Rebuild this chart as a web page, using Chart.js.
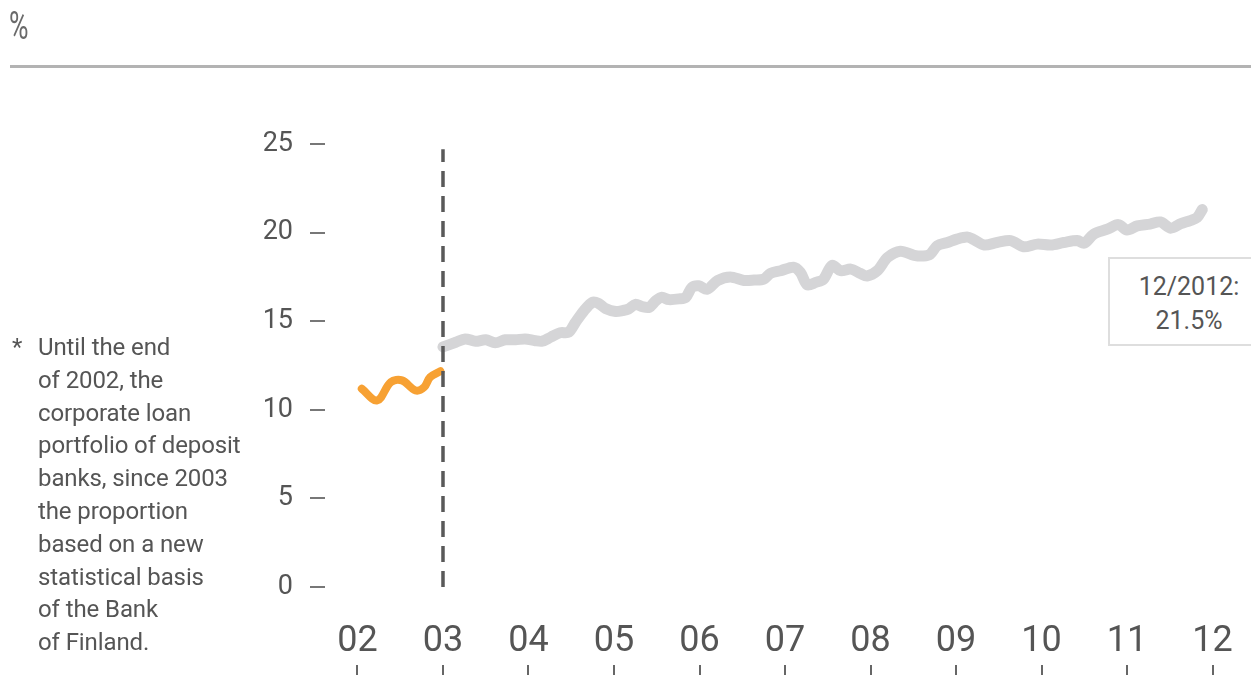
<!DOCTYPE html>
<html>
<head>
<meta charset="utf-8">
<script src="https://cdn.jsdelivr.net/npm/chart.js@4.4.0/dist/chart.umd.min.js"></script>
<style>
  html, body { margin: 0; padding: 0; background: #ffffff; }
  body { width: 1251px; height: 675px; position: relative; overflow: hidden; font-family: Roboto, "Noto Sans", sans-serif; color: #555; }
  #wrap { position: absolute; left: 0; top: 0; width: 1251px; height: 675px; }
  #unit { position: absolute; left: 9px; top: 5px; font-size: 38px; line-height: 42px; color: #6a6a6a; transform: scaleX(0.7); transform-origin: left top; }
  #rule { position: absolute; left: 10px; top: 65px; width: 1241px; height: 3px; background: #b3b3b3; }
  #note { position: absolute; left: 12px; top: 331px; font-size: 24px; line-height: 32.8px; color: #555; }
  #note .star { position: absolute; left: 0; top: 0; }
  #note .txt { position: absolute; left: 26px; top: 0; white-space: nowrap; letter-spacing: -0.1px; }
  #box { position: absolute; left: 1108px; top: 257px; width: 200px; height: 85px; border: 2px solid #dedede; background: #fff; }
  #boxtxt { position: absolute; left: 1119px; top: 270px; width: 140px; text-align: center; font-size: 25px; line-height: 34px; color: #555; }
</style>
</head>
<body>
<div id="wrap"><canvas id="c" width="1251" height="675"></canvas></div>
<div id="unit">%</div>
<div id="rule"></div>
<div id="note"><span class="star">*</span><span class="txt">Until the end<br>of 2002, the<br>corporate loan<br>portfolio of deposit<br>banks, since 2003<br>the proportion<br>based on a new<br>statistical basis<br>of the Bank<br>of Finland.</span></div>
<div id="box"></div>
<div id="boxtxt">12/2012:<br>21.5%</div>
<script>
// ---- data ----
const yearTicks = [2002, 2003, 2004, 2005, 2006, 2007, 2008, 2009, 2010, 2011, 2012];
const yTicks = [0, 5, 10, 15, 20, 25];

// Deposit banks' corporate loan portfolio (until end of 2002)
const oldX = [2002.05, 2002.23, 2002.39, 2002.52, 2002.68, 2002.78, 2002.85, 2002.97];
const oldY = [11.19, 10.53, 11.56, 11.66, 11.09, 11.28, 11.84, 12.18];

// New statistical basis (since 2003)
const newX = [2003.00, 2003.15, 2003.26, 2003.38, 2003.50, 2003.61, 2003.73, 2003.85, 2003.96,
  2004.08, 2004.16, 2004.26, 2004.37, 2004.47, 2004.55, 2004.65, 2004.75, 2004.82, 2004.90,
  2005.02, 2005.10, 2005.17, 2005.25, 2005.33, 2005.41, 2005.49, 2005.56, 2005.64, 2005.76, 2005.84, 2005.91, 2005.99,
  2006.09, 2006.21, 2006.36, 2006.52, 2006.64, 2006.75, 2006.83, 2006.95,
  2007.10, 2007.18, 2007.26, 2007.36, 2007.45, 2007.55, 2007.65, 2007.77, 2007.88, 2007.96,
  2008.08, 2008.20, 2008.35, 2008.51, 2008.62, 2008.70, 2008.78, 2008.90,
  2009.01, 2009.13, 2009.21, 2009.33, 2009.48, 2009.64, 2009.79, 2009.95,
  2010.11, 2010.26, 2010.42, 2010.50, 2010.61, 2010.77, 2010.90,
  2011.00, 2011.12, 2011.27, 2011.39, 2011.51, 2011.63, 2011.74, 2011.82, 2011.88];
const newY = [13.55, 13.81, 14.0, 13.87, 13.95, 13.78, 13.95, 13.95, 14.0,
  13.9, 13.87, 14.1, 14.35, 14.38, 14.94, 15.6, 16.07, 16.0, 15.72,
  15.55, 15.6, 15.69, 15.95, 15.82, 15.78, 16.16, 16.35, 16.22, 16.26, 16.35, 16.9, 17.0,
  16.8, 17.29, 17.5, 17.3, 17.32, 17.37, 17.7, 17.85,
  18.05, 17.75, 17.05, 17.19, 17.37, 18.15, 17.85, 17.94, 17.7, 17.55,
  17.85, 18.6, 18.95, 18.72, 18.68, 18.79, 19.26, 19.44,
  19.63, 19.75, 19.6, 19.3, 19.44, 19.55, 19.2, 19.35,
  19.3, 19.44, 19.55, 19.4, 19.91, 20.19, 20.45,
  20.15, 20.38, 20.48, 20.6, 20.25, 20.5, 20.68, 20.85, 21.3];

// break between the two statistical bases
const breakX = [2003, 2003];
const breakY = [0, 24.7];

const xMin = 2001.62, xMax = 2012.333;

const pts = (xs, ys) => xs.map((x, i) => ({ x: x, y: ys[i] }));
const noPad = s => { s.paddingLeft = 0; s.paddingRight = 0; };

new Chart(document.getElementById('c'), {
  type: 'line',
  data: {
    datasets: [
      { data: pts(breakX, breakY), borderColor: '#595959', borderWidth: 3.5, borderDash: [16, 9],
        pointRadius: 0, order: 0, tension: 0, borderCapStyle: 'butt' },
      { data: pts(oldX, oldY), borderColor: '#f7a133', borderWidth: 8, pointRadius: 0, order: 1,
        tension: 0.35, borderCapStyle: 'round', borderJoinStyle: 'round' },
      { data: pts(newX, newY), borderColor: '#d5d5d7', borderWidth: 11, pointRadius: 0, order: 2,
        tension: 0.3, borderCapStyle: 'round', borderJoinStyle: 'round' }
    ]
  },
  options: {
    responsive: false,
    animation: false,
    events: [],
    layout: { padding: { top: 144, right: 10, bottom: 0, left: 0 } },
    plugins: { legend: { display: false }, tooltip: { enabled: false } },
    elements: { line: { fill: false } },
    scales: {
      x: {
        type: 'linear', min: xMin, max: xMax, weight: 0,
        border: { display: false },
        grid: { display: false, drawTicks: false },
        afterBuildTicks: s => { s.ticks = yearTicks.map(v => ({ value: v })); },
        afterFit: s => { s.height = 78; noPad(s); },
        ticks: {
          padding: 37, color: '#555', autoSkip: false, maxRotation: 0,
          font: { family: 'Roboto', size: 36, lineHeight: 1 },
          callback: v => String(v).slice(2)
        }
      },
      x2: {
        type: 'linear', position: 'bottom', min: xMin, max: xMax, weight: 1,
        border: { display: false },
        grid: { drawOnChartArea: false, drawTicks: true, tickLength: 10, color: '#666', lineWidth: 2 },
        afterBuildTicks: s => { s.ticks = yearTicks.map(v => ({ value: v })); },
        afterFit: s => { s.height = 10; noPad(s); },
        ticks: { display: false }
      },
      y: {
        type: 'linear', min: 0, max: 25,
        border: { display: false },
        grid: { drawOnChartArea: false, drawTicks: true, tickLength: 15, color: '#777', lineWidth: 2 },
        afterBuildTicks: s => { s.ticks = yTicks.map(v => ({ value: v })); },
        afterFit: s => { s.width = 325; },
        ticks: { padding: 17, color: '#555', font: { family: 'Roboto', size: 27 } }
      }
    }
  }
});
</script>
</body>
</html>
